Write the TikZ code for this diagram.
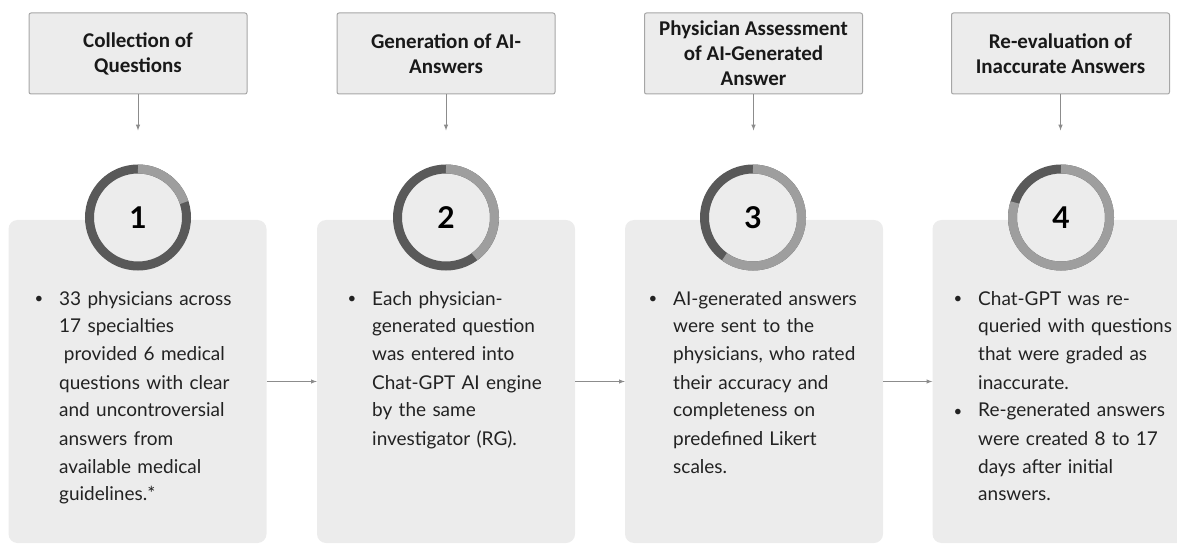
\documentclass[tikz,border=0pt]{standalone}
\usepackage{fontspec}
\setmainfont{Lato}
\newfontfamily\headfont{Carlito}
\usetikzlibrary{positioning}

\definecolor{boxgray}{HTML}{ECECEC}
\definecolor{edgegray}{HTML}{A6A6A6}
\definecolor{ringdark}{HTML}{595959}
\definecolor{ringlight}{HTML}{9E9E9E}
\definecolor{linkgray}{HTML}{8C8C8C}
\definecolor{inkgray}{HTML}{222222}

% small bullet hanging left of the text
\newcommand{\bul}{\leavevmode\llap{\raisebox{1pt}{\fontsize{15}{15}\selectfont\textbullet}\hspace{16pt}}}

\begin{document}
\begin{tikzpicture}[x=1pt, y=1pt, >=latex,
	head/.style={draw=edgegray, fill=boxgray, line width=1pt, rounded corners=2pt,
		minimum width=218pt, minimum height=81pt, align=center, text=black!90,
		font=\headfont\bfseries\fontsize{21}{25}\selectfont},
	panel/.style={fill=boxgray, rounded corners=9pt, minimum width=258pt,
		minimum height=323pt, inner sep=0},
	ring/.style={circle, draw=ringdark, fill=boxgray, line width=9pt, minimum size=97pt,
		inner sep=0, outer sep=0, font=\bfseries\fontsize{30}{30}\selectfont},
	body/.style={anchor=base west, text width=225pt, align=left, inner sep=0,
		text=inkgray, font=\fontsize{19}{28}\selectfont},
	link/.style={->, draw=linkgray, line width=1pt}]
		
		\useasboundingbox (0,0) rectangle (1177,544);
		
		% step titles
		\node[head] (h1) at (138,490.5) {Collection of\\Questions};
		\node[head] (h2) at (446,490.5) {Generation of AI-\\Answers};
		\node[head] (h3) at (753.5,490.5) {Physician Assessment\\of AI-Generated\\Answer};
		\node[head] (h4) at (1060.5,490.5) {Re-evaluation of\\Inaccurate Answers};
		
		\coordinate[below=36pt of h1] (d1);
		\coordinate[below=36pt of h2] (d2);
		\coordinate[below=36pt of h3] (d3);
		\coordinate[below=36pt of h4] (d4);
		
		\draw[link] (h1) -- (d1);
		\draw[link] (h2) -- (d2);
		\draw[link] (h3) -- (d3);
		\draw[link] (h4) -- (d4);
		
		% grey cards
		\node[panel] (p1) at (137.5,162.5) {};
		\node[panel] (p2) at (446,162.5) {};
		\node[panel] (p3) at (754,162.5) {};
		\node[panel] (p4) at (1061.5,162.5) {};
		
		\draw[link] (p1) -- (p2);
		\draw[link] (p2) -- (p3);
		\draw[link] (p3) -- (p4);
		
		% progress rings
		\node[ring] (c1) at (138,326.5) {1};
		\node[ring] (c2) at (446,326.5) {2};
		\node[ring] (c3) at (753,326.5) {3};
		\node[ring] (c4) at (1061,326.5) {4};
		
		\draw[ringlight, line width=9pt] (c1.north) arc[start angle=90, end angle=18, radius=48.5];
		\draw[ringlight, line width=9pt] (c2.north) arc[start angle=90, end angle=-54, radius=48.5];
		\draw[ringlight, line width=9pt] (c3.north) arc[start angle=90, end angle=-126, radius=48.5];
		\draw[ringlight, line width=9pt] (c4.north) arc[start angle=90, end angle=-198, radius=48.5];
		
		% card texts
		\node[body] (t1) at (59,239) {\bul 33 physicians across\\17 specialties\\
			\hspace*{0.25em}provided 6 medical\\questions with clear\\and uncontroversial\\
			answers from\\available medical\\guidelines.*};
		\node[body] (t2) at (372,239) {\bul Each physician-\\generated question\\
			was entered into\\Chat-GPT AI engine\\by the same\\investigator (RG).};
		\node[body] (t3) at (673,239) {\bul AI-generated answers\\were sent to the\\
			physicians, who rated\\their accuracy and\\completeness on\\predefined Likert\\scales.};
		\node[body] (t4) at (978,239) {\bul Chat-GPT was re-\\queried with questions\\
			that were graded as\\inaccurate.\\\bul Re-generated answers\\were created 8 to 17\\
			days after initial\\answers.};
		
		\end{tikzpicture}
\end{document}
